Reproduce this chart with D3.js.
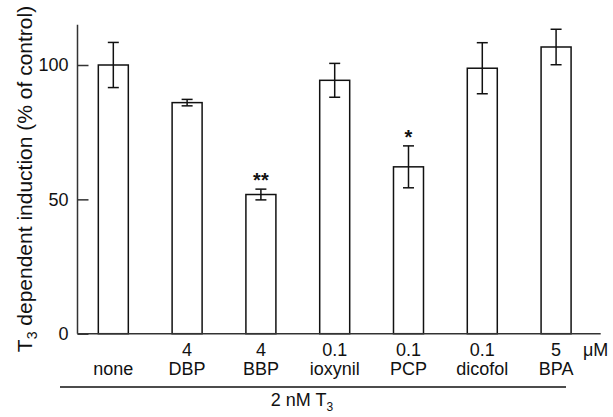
<!DOCTYPE html>
<html>
<head>
<meta charset="utf-8">
<script src="https://cdn.jsdelivr.net/npm/d3@7"></script>
<style>
  body { margin: 0; background: #fff; }
  text { font-family: "Liberation Sans", Arial, sans-serif; fill: #111; }
</style>
</head>
<body>
<div class="container"></div>
<script>
var compounds = ["none", "DBP", "BBP", "ioxynil", "PCP", "dicofol", "BPA"];
var doses = ["", "4", "4", "0.1", "0.1", "0.1", "5"];
var means = [100, 86.0, 51.8, 94.3, 62.1, 98.8, 106.7];
var errors = [8.4, 1.2, 2.0, 6.3, 7.8, 9.5, 6.6];
var stars = ["", "", "**", "", "*", "", ""];
var yTicks = [0, 50, 100];

const WIDTH = 613;
const HEIGHT = 417;

var svg = d3.select('.container').append('svg')
  .attr('width', WIDTH)
  .attr('height', HEIGHT);

var yScale = d3.scaleLinear()
  .domain([0, 100])
  .range([333.7, 65]);

var xScale = d3.scaleBand()
  .domain(compounds)
  .range([76.4, 593])
  .paddingInner(0.5935)
  .paddingOuter(0.297);

var AXIS_X = 77.5;

// y axis, ticks point inward
var yAxis = d3.axisRight(yScale).tickValues(yTicks).tickSize(11).tickFormat(d3.format('d'));
var yg = svg.append('g')
  .attr('transform', 'translate(' + AXIS_X + ',0)')
  .call(yAxis);
yg.select('.domain').remove();
yg.selectAll('.tick line').attr('stroke', '#333').attr('stroke-width', 1.5);
yg.selectAll('.tick text')
  .attr('x', -9).attr('text-anchor', 'end')
  .style('font-size', '18px').attr('fill', '#111');

svg.append('line')
  .attr('x1', AXIS_X).attr('x2', AXIS_X)
  .attr('y1', yScale(115)).attr('y2', yScale(0))
  .attr('stroke', '#333').attr('stroke-width', 1.5);

// bars
var cx = function (d) { return xScale(d) + xScale.bandwidth() / 2; };

svg.selectAll('rect.bar')
  .data(compounds)
  .enter().append('rect')
  .attr('class', 'bar')
  .attr('x', function (d) { return xScale(d); })
  .attr('width', xScale.bandwidth())
  .attr('y', function (d, i) { return yScale(means[i]); })
  .attr('height', function (d, i) { return yScale(0) - yScale(means[i]); })
  .attr('fill', 'white')
  .attr('stroke', '#111')
  .attr('stroke-width', 1.5);

// baseline
svg.append('line')
  .attr('x1', AXIS_X).attr('x2', 600.7)
  .attr('y1', yScale(0)).attr('y2', yScale(0))
  .attr('stroke', '#333').attr('stroke-width', 1.5);

// error bars
var eb = svg.selectAll('g.err')
  .data(compounds)
  .enter().append('g')
  .attr('class', 'err')
  .attr('stroke', '#111')
  .attr('stroke-width', 1.5);

eb.append('line')
  .attr('x1', cx).attr('x2', cx)
  .attr('y1', function (d, i) { return yScale(means[i] + errors[i]); })
  .attr('y2', function (d, i) { return yScale(means[i] - errors[i]); });
[1, -1].forEach(function (s) {
  eb.append('line')
    .attr('x1', function (d) { return cx(d) - 5.5; })
    .attr('x2', function (d) { return cx(d) + 5.5; })
    .attr('y1', function (d, i) { return yScale(means[i] + s * errors[i]); })
    .attr('y2', function (d, i) { return yScale(means[i] + s * errors[i]); });
});

// significance marks
svg.selectAll('text.star')
  .data(compounds)
  .enter().append('text')
  .attr('class', 'star')
  .attr('x', cx)
  .attr('y', function (d, i) { return yScale(means[i] + errors[i]) - 2; })
  .attr('text-anchor', 'middle')
  .style('font-size', '20px')
  .style('font-weight', 'bold')
  .text(function (d, i) { return stars[i]; });

// x labels
svg.selectAll('text.dose')
  .data(compounds)
  .enter().append('text')
  .attr('class', 'dose')
  .attr('x', cx)
  .attr('y', 356)
  .attr('text-anchor', 'middle')
  .style('font-size', '18px')
  .text(function (d, i) { return doses[i]; });

svg.selectAll('text.name')
  .data(compounds)
  .enter().append('text')
  .attr('class', 'name')
  .attr('x', cx)
  .attr('y', 375)
  .attr('text-anchor', 'middle')
  .style('font-size', '18px')
  .text(function (d) { return d; });

svg.append('text')
  .attr('x', 583).attr('y', 356)
  .style('font-size', '18px')
  .text('\u03bcM');

// bracket line and treatment label
svg.append('line')
  .attr('x1', 60).attr('x2', 566)
  .attr('y1', 387).attr('y2', 387)
  .attr('stroke', '#111').attr('stroke-width', 1.5);

var t = svg.append('text')
  .attr('x', 302).attr('y', 406)
  .attr('text-anchor', 'middle')
  .style('font-size', '18px');
t.append('tspan').text('2 nM T');
t.append('tspan').attr('dy', 5).style('font-size', '12px').text('3');

// y label
var yl = svg.append('text')
  .attr('transform', 'translate(32,179) rotate(-90)')
  .attr('text-anchor', 'middle')
  .style('font-size', '21px');
yl.append('tspan').text('T');
yl.append('tspan').attr('dy', 5).style('font-size', '14px').text('3');
yl.append('tspan').attr('dy', -5).text(' dependent induction (% of control)');
</script>
</body>
</html>
